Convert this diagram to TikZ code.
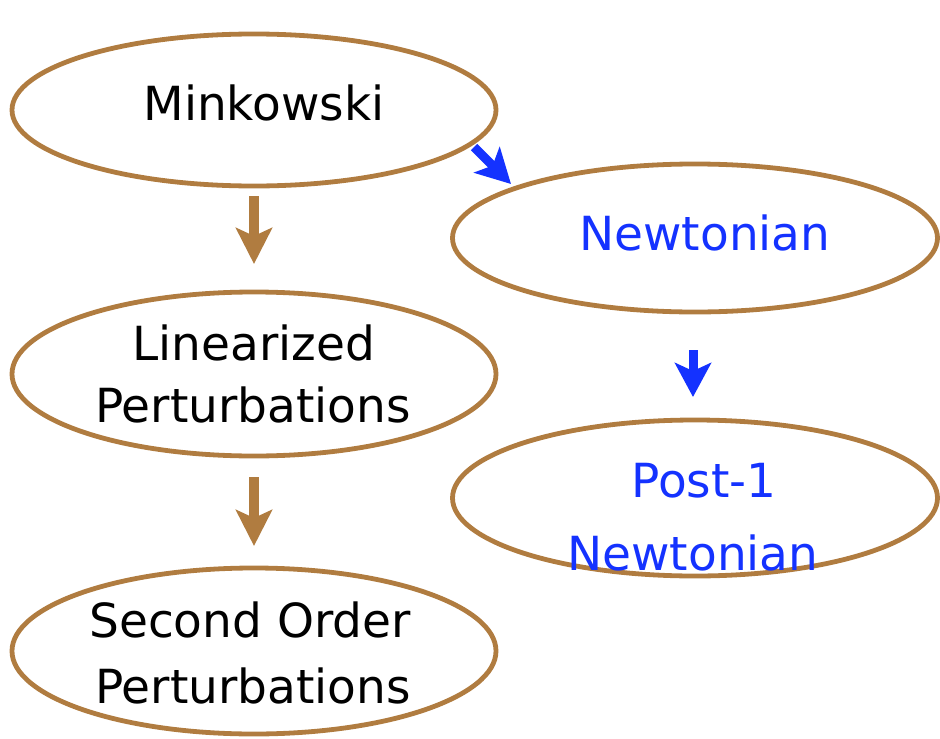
\documentclass[tikz,border=0pt]{standalone}
\usepackage{fontspec}
\setmainfont{DejaVu Sans}
\usetikzlibrary{shapes.geometric,arrows.meta}
\definecolor{brownline}{RGB}{176,124,64}
\definecolor{bluetext}{RGB}{20,50,255}
\tikzset{
  oval/.style={ellipse,draw=brownline,line width=4.8pt,inner sep=0pt},
  lbl/.style={anchor=base,inner sep=0pt,font=\fontsize{47}{56}\selectfont},
  bluelbl/.style={lbl,text=bluetext},
  brownarrow/.style={draw=brownline,line width=10pt,-{Stealth[width=36pt,length=36pt,inset=8pt]}},
  bluearrow/.style={draw=bluetext,line width=9pt,-{Stealth[width=36pt,length=34pt,inset=8pt]}},
}
\begin{document}
\begin{tikzpicture}[x=1pt,y=-1pt]
\useasboundingbox (0,0) rectangle (940,739);
\node[oval,minimum width=484pt,minimum height=152pt] (mink) at (254,110) {};
\node[oval,minimum width=485pt,minimum height=148pt] (newt) at (695,238) {};
\node[oval,minimum width=484pt,minimum height=164pt] (lin) at (254,374) {};
\node[oval,minimum width=485pt,minimum height=156pt] (post) at (695,498) {};
\node[oval,minimum width=484pt,minimum height=166pt] (sec) at (254,651) {};
\node[lbl] (tmink) at (264,120) {Minkowski};
\node[bluelbl] (tnewt) at (705,250) {Newtonian};
\node[lbl] (tlin1) at (254,360) {Linearized};
\node[lbl] (tlin2) at (253,422) {Perturbations};
\node[bluelbl] (tpost1) at (704,497) {Post-1};
\node[bluelbl] (tpost2) at (693,570) {Newtonian};
\node[lbl] (tsec1) at (250,637) {Second Order};
\node[lbl] (tsec2) at (253,703) {Perturbations};
\coordinate (a1s) at (254,196);
\coordinate (a1e) at (254,264);
\coordinate (a2s) at (254,477);
\coordinate (a2e) at (254,546);
\coordinate (b1s) at (474,147);
\coordinate (b1e) at (511,184);
\coordinate (b2s) at (693,350);
\coordinate (b2e) at (693,397);
\draw[brownarrow] (a1s) -- (a1e);
\draw[brownarrow] (a2s) -- (a2e);
\draw[bluearrow] (b1s) -- (b1e);
\draw[bluearrow] (b2s) -- (b2e);
\end{tikzpicture}
\end{document}
